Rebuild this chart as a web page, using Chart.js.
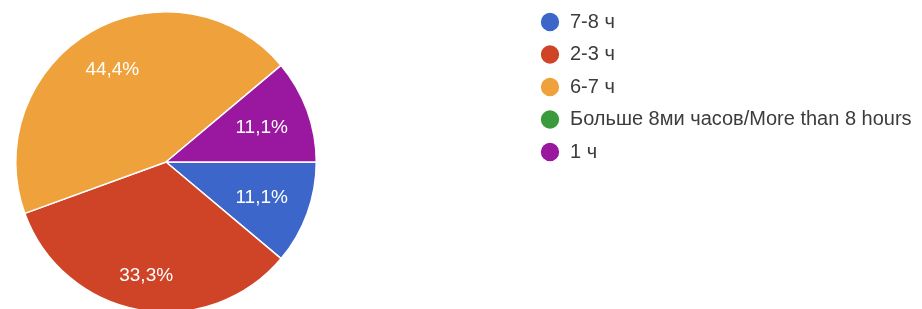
<!DOCTYPE html>
<html>
<head>
<meta charset="utf-8">
<script src="https://cdn.jsdelivr.net/npm/chart.js@4/dist/chart.umd.min.js"></script>
<style>
  html, body { margin: 0; padding: 0; background: #fff; overflow: hidden; }
  #wrap { position: relative; width: 922px; height: 309px; }
</style>
</head>
<body>
<div id="wrap"><canvas id="c" width="922" height="309"></canvas></div>
<script>
const categories = ['7-8 ч', '2-3 ч', '6-7 ч', 'Больше 8ми часов/More than 8 hours', '1 ч'];
const values = [1, 3, 4, 0, 1];
const colors = ['#3c66c9', '#cf4427', '#efa23b', '#3b9a3b', '#9a179f'];

const FONT = '"Liberation Sans", Arial, sans-serif';

// Place the pie and legend like the reference layout
const placePlugin = {
  id: 'place',
  afterLayout(chart) {
    const ca = chart.chartArea;
    ca.left = 15; ca.right = 317; ca.top = 11; ca.bottom = 313;
    ca.width = ca.right - ca.left; ca.height = ca.bottom - ca.top;
    const lg = chart.legend;
    const w = lg.width, h = lg.height;
    lg.left = 527.5; lg.right = lg.left + w;
    lg.top = -0.5; lg.bottom = lg.top + h;
  }
};

// Percentage labels: outer corner of label box sits at a fixed fraction of the radius
const pctPlugin = {
  id: 'pct',
  afterDatasetsDraw(chart) {
    const ctx = chart.ctx;
    const meta = chart.getDatasetMeta(0);
    const data = chart.data.datasets[0].data;
    const total = data.reduce((a, b) => a + b, 0);
    ctx.save();
    ctx.font = '19px ' + FONT;
    ctx.fillStyle = '#ffffff';
    ctx.textAlign = 'center';
    ctx.textBaseline = 'middle';
    meta.data.forEach((arc, i) => {
      const v = data[i];
      if (!v) return;
      const p = arc.getProps(['x', 'y', 'startAngle', 'endAngle', 'outerRadius'], true);
      const mid = (p.startAngle + p.endAngle) / 2;
      const ux = Math.cos(mid), uy = Math.sin(mid);
      const txt = (v / total * 100).toFixed(1).replace('.', ',') + '%';
      const hw = ctx.measureText(txt).width / 2, hh = 8;
      const cx = Math.sign(ux) * hw, cy = Math.sign(uy) * hh;
      const Rk = p.outerRadius * 0.86;
      const b = ux * cx + uy * cy;
      const d = -b + Math.sqrt(b * b - (cx * cx + cy * cy) + Rk * Rk);
      ctx.fillText(txt, p.x + ux * d, p.y + uy * d + 1);
    });
    ctx.restore();
  }
};

new Chart(document.getElementById('c'), {
  type: 'pie',
  data: {
    labels: categories,
    datasets: [{
      data: values,
      backgroundColor: colors,
      borderColor: '#ffffff',
      borderWidth: 1.5
    }]
  },
  options: {
    responsive: false,
    animation: false,
    rotation: 90,
    plugins: {
      tooltip: { enabled: false },
      legend: {
        position: 'right',
        align: 'start',
        labels: {
          usePointStyle: true,
          pointStyle: 'circle',
          boxWidth: 20,
          boxHeight: 14,
          padding: 12.5,
          color: '#3c3c3c',
          font: { family: FONT, size: 20 }
        }
      }
    }
  },
  plugins: [placePlugin, pctPlugin]
});
</script>
</body>
</html>
